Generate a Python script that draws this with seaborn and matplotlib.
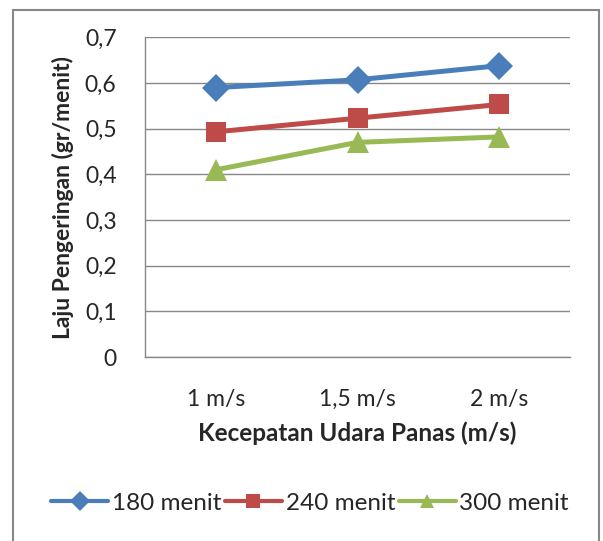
import pandas as pd
import matplotlib.pyplot as plt
import seaborn as sns
from matplotlib.patches import Rectangle

# data
kecepatan = ["1 m/s", "1,5 m/s", "2 m/s"]
menit_180 = [0.59, 0.607, 0.638]
menit_240 = [0.493, 0.523, 0.553]
menit_300 = [0.41, 0.47, 0.482]
series = ["180 menit", "240 menit", "300 menit"]

df = pd.DataFrame({
    "Kecepatan": kecepatan * 3,
    "Laju": menit_180 + menit_240 + menit_300,
    "Waktu": [s for s in series for _ in kecepatan],
})
df["pos"] = df["Kecepatan"].map({k: i for i, k in enumerate(kecepatan)})

sns.set_style("white")
plt.rcParams["font.family"] = ["Lato", "DejaVu Sans"]

fig = plt.figure(figsize=(6.03, 5.41), dpi=100)
ax = fig.add_axes([0.2405, 0.340, 0.705, 0.591])

colors = {"180 menit": "#4A7EBB", "240 menit": "#BE4B48", "300 menit": "#98B954"}
markers = {"180 menit": "D", "240 menit": "s", "300 menit": "^"}
sizes = {"180 menit": 14, "240 menit": 14.5, "300 menit": 16}
for s in series:
    sub = df[df["Waktu"] == s]
    sns.lineplot(data=sub, x="pos", y="Laju", ax=ax, color=colors[s],
                 marker=markers[s], markersize=sizes[s], markeredgewidth=0,
                 linewidth=3.6, label=s)

ax.set_xlim(-0.5, 2.5)
ax.set_ylim(0, 0.7)
ax.set_yticks([i / 10 for i in range(8)])
ax.set_yticklabels(["0"] + ["0,%d" % i for i in range(1, 8)], fontsize=16.5)
ax.set_xticks([-0.5, 0.5, 1.5, 2.5])
ax.set_xticklabels([])
ax.set_xticks([0, 1, 2], minor=True)
ax.set_xticklabels(kecepatan, minor=True, fontsize=16.5)
ax.tick_params(axis="x", which="major", direction="out", length=6, color="#888888", width=1)
ax.tick_params(axis="x", which="minor", length=0, pad=23)
ax.tick_params(axis="y", direction="out", length=6.5, color="#888888", width=1, pad=14)
ax.grid(axis="y", color="#888888", linewidth=1)
ax.set_axisbelow(True)
for side in ["top", "right"]:
    ax.spines[side].set_visible(False)
for side in ["left", "bottom"]:
    ax.spines[side].set_color("#888888")
    ax.spines[side].set_linewidth(1)

ax.set_xlabel("Kecepatan Udara Panas (m/s)", fontsize=17.5, fontweight="bold", labelpad=8)
ax.set_ylabel("Laju Pengeringan (gr/menit)", fontsize=16.5, fontweight="bold", labelpad=8)

leg = ax.legend(loc="center", bbox_to_anchor=(310 / 603, (541 - 503) / 541),
                bbox_transform=fig.transFigure, ncol=3, frameon=False, fontsize=17.5,
                handlelength=2.35, handletextpad=0.15, columnspacing=0.15,
                borderaxespad=0)
for h in leg.legend_handles:
    h.set_markersize(10)
    h.set_linewidth(3)

fig.patches.append(Rectangle((13 / 603, -0.05), 586 / 603, 1.05 - 10 / 541,
                             transform=fig.transFigure, fill=False,
                             edgecolor="#888888", linewidth=1.5))

fig.savefig("out.png", dpi=100)
